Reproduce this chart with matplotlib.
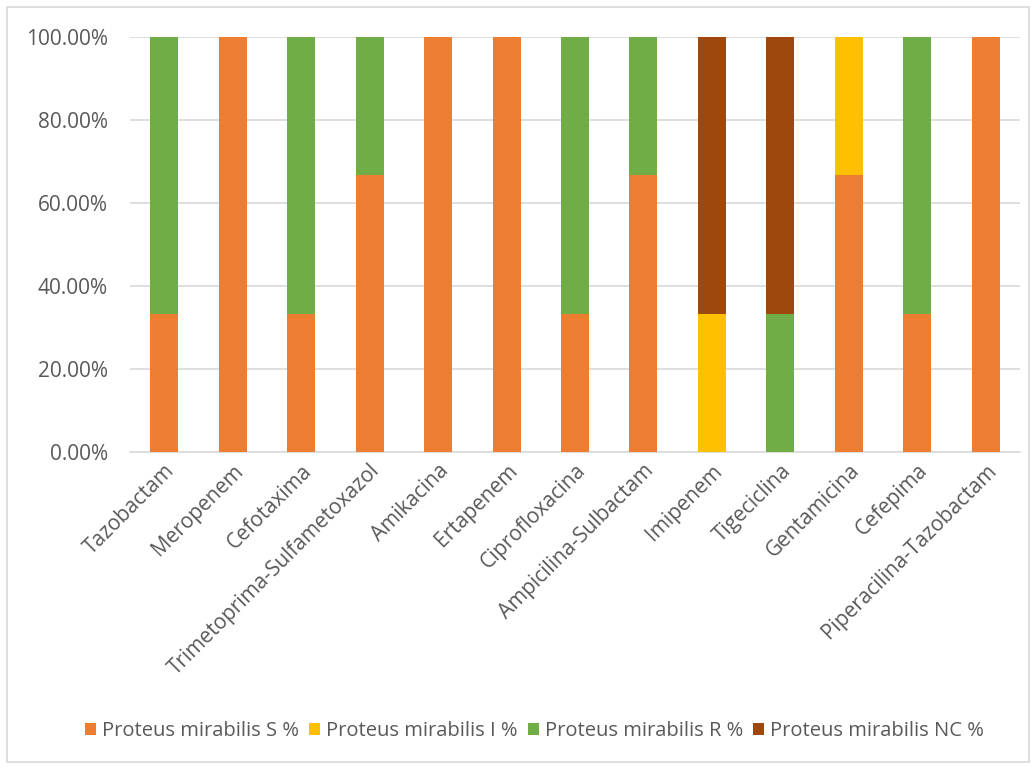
import matplotlib.pyplot as plt
import numpy as np
from matplotlib.patches import Rectangle
from matplotlib.ticker import PercentFormatter

# antibiotics on the x axis
antibiotics = ["Tazobactam", "Meropenem", "Cefotaxima", "Trimetoprima-Sulfametoxazol",
               "Amikacina", "Ertapenem", "Ciprofloxacina", "Ampicilina-Sulbactam",
               "Imipenem", "Tigeciclina", "Gentamicina", "Cefepima",
               "Piperacilina-Tazobactam"]

# percentages per category
s_pct = [33.33, 100, 33.33, 66.67, 100, 100, 33.33, 66.67, 0, 0, 66.67, 33.33, 100]
i_pct = [0, 0, 0, 0, 0, 0, 0, 0, 33.33, 0, 33.33, 0, 0]
r_pct = [66.67, 0, 66.67, 33.33, 0, 0, 66.67, 33.33, 0, 33.33, 0, 66.67, 0]
nc_pct = [0, 0, 0, 0, 0, 0, 0, 0, 66.67, 66.67, 0, 0, 0]

series = [("Proteus mirabilis S %", s_pct, "#ED7D31"),
          ("Proteus mirabilis I %", i_pct, "#FFC000"),
          ("Proteus mirabilis R %", r_pct, "#70AD47"),
          ("Proteus mirabilis NC %", nc_pct, "#9E480E")]

plt.rcParams['font.family'] = ['Open Sans', 'DejaVu Sans']
text_color = "#595959"

fig = plt.figure(figsize=(10.36, 7.67), dpi=100)
ax = fig.add_axes([130 / 1036, 1 - 452 / 767, 890 / 1036, 415 / 767])

x = np.arange(len(antibiotics))
bottom = np.zeros(len(antibiotics))
for name, vals, color in series:
    vals = np.array(vals, dtype=float)
    ax.bar(x, vals, width=0.41, bottom=bottom, color=color, label=name, zorder=3)
    bottom += vals

ax.set_xlim(-0.5, len(antibiotics) - 0.5)
ax.set_ylim(0, 100)
ax.set_yticks(np.arange(0, 101, 20))
ax.yaxis.set_major_formatter(PercentFormatter(decimals=2))
ax.grid(axis='y', color="#D9D9D9", linewidth=1.2, zorder=0)
for side in ["top", "right", "left"]:
    ax.spines[side].set_visible(False)
ax.spines["bottom"].set_color("#D9D9D9")
ax.spines["bottom"].set_linewidth(1.2)
ax.tick_params(axis='both', length=0, colors=text_color, labelsize=15)
ax.tick_params(axis='y', pad=16)
ax.tick_params(axis='x', pad=6)
ax.set_xticks(x)
ax.set_xticklabels(antibiotics, rotation=45, ha='right', rotation_mode='anchor')

leg = fig.legend(loc='center', bbox_to_anchor=(0.516, 1 - 731 / 767), ncol=4,
                 frameon=False, fontsize=14.5, handlelength=0.55, handleheight=0.55,
                 handletextpad=0.3, columnspacing=0.5)
for t in leg.get_texts():
    t.set_color(text_color)

# chart border
fig.patches.append(Rectangle((7 / 1036, 5 / 767), 1 - 14 / 1036, 1 - 12 / 767,
                             transform=fig.transFigure, fill=False,
                             edgecolor="#D9D9D9", linewidth=1.2))

fig.savefig("out.png", dpi=100)
